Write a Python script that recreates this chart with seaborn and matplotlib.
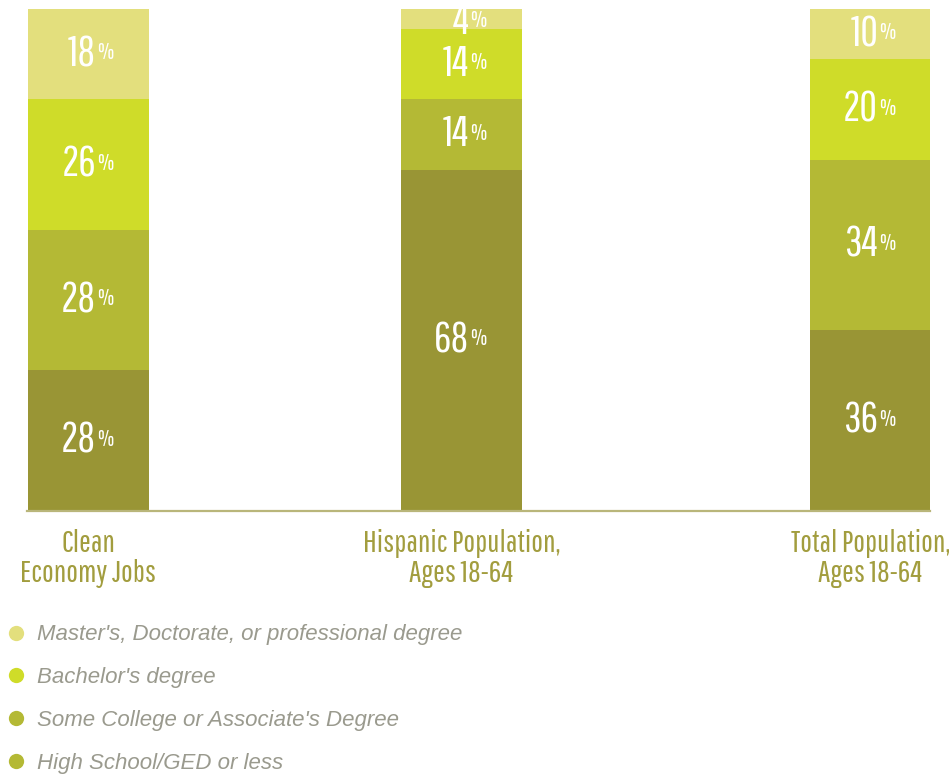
import matplotlib
matplotlib.use("Agg")
import matplotlib.pyplot as plt
from matplotlib.lines import Line2D
from matplotlib import font_manager
import seaborn as sns
import pandas as pd
import numpy as np

# ---- data -------------------------------------------------------------
groups = ["Clean\nEconomy Jobs", "Hispanic Population,\nAges 18-64", "Total Population,\nAges 18-64"]
levels = [
    "High School/GED or less",
    "Some College or Associate's Degree",
    "Bachelor's degree",
    "Master's, Doctorate, or professional degree",
]
high_school = [28, 68, 36]
some_college = [28, 14, 34]
bachelors = [26, 14, 20]
masters = [18, 4, 10]

# ---- layout / style ----------------------------------------------------
bar_pos = [0.0, 0.954, 2.0]          # horizontal placement of the three columns
bar_width = 0.31
bar_colors = ["#999535", "#b4b935", "#cfdc29", "#e3df7d"]
legend_colors = ["#e3df7d", "#cfdc29", "#b4b935", "#b4b935"]
olive_text = "#a29d3e"
legend_text = "#9a9a8e"

sns.set_theme(style="white")
available = {f.name for f in font_manager.fontManager.ttflist}


def pick(options, default="DejaVu Sans"):
    for name in options:
        if name in available:
            return name
    return default


narrow = pick(["Pathway Gothic One", "Roboto Condensed", "Barlow Condensed", "Oswald",
               "Archivo Narrow", "PT Sans Narrow", "Liberation Sans Narrow", "Teko"])
oblique = pick(["Liberation Sans", "Arimo", "Roboto"])
plt.rcParams["font.family"] = [narrow, "DejaVu Sans"]

df = pd.DataFrame({
    "group": groups,
    "pos": bar_pos,
    levels[0]: high_school,
    levels[1]: some_college,
    levels[2]: bachelors,
    levels[3]: masters,
})
# cumulative heights, bottom segment first
cum = df[levels].cumsum(axis=1)
cum["pos"] = df["pos"]

fig = plt.figure(figsize=(9.49, 7.74), dpi=100)
W, H = 949, 774
ax = fig.add_axes([27 / W, (H - 511) / H, (930 - 27) / W, 502 / H])

# stacked bars: draw tallest cumulative first, then overlay lower stacks
min_gap = np.min(np.diff(sorted(bar_pos)))
for i in reversed(range(len(levels))):
    sns.barplot(data=cum, x="pos", y=levels[i], native_scale=True, orient="x",
                color=bar_colors[i], saturation=1, width=bar_width / min_gap,
                ax=ax, linewidth=0, errorbar=None)

ax.set_xlim(-0.157, 2.152)
ax.set_ylim(0, 100)
ax.set_xlabel("")
ax.set_ylabel("")
ax.set_yticks([])
for s in ["top", "right", "left"]:
    ax.spines[s].set_visible(False)
ax.spines["bottom"].set_color("#b9b67a")
ax.spines["bottom"].set_linewidth(1.6)

ax.tick_params(axis="x", length=0, pad=13)
ax.set_xticks(bar_pos)
ax.set_xticklabels(groups, fontsize=22.5, color=olive_text, linespacing=1.05,
                   va="top", family=[narrow, "DejaVu Sans"])

# segment value labels: big number followed by a small percent sign
values = df[levels].to_numpy()
bottoms = np.hstack([np.zeros((len(groups), 1)), cum[levels].to_numpy()[:, :-1]])
for gi, x in enumerate(bar_pos):
    for li in range(len(levels)):
        v = values[gi, li]
        yc = min(bottoms[gi, li] + v / 2, 97.5)   # keep thin top segments' labels inside the frame
        ax.annotate(f"{v}", xy=(x, yc), xytext=(5.5, 0), textcoords="offset points",
                    ha="right", va="center", color="white", fontsize=31,
                    family=[narrow, "DejaVu Sans"])
        ax.annotate("%", xy=(x, yc), xytext=(6.0, 1), textcoords="offset points",
                    ha="left", va="center", color="white", fontsize=17,
                    family=[narrow, "DejaVu Sans"])

# legend with round markers, top entry first
handles = [Line2D([0], [0], marker="o", linestyle="", markersize=11,
                  markerfacecolor=c, markeredgewidth=0) for c in legend_colors]
labels = list(reversed(levels))
leg = fig.legend(handles, labels, loc="upper left", bbox_to_anchor=(0.0, 1 - 620 / H),
                 frameon=False, handlelength=1.0, handletextpad=0.45,
                 labelspacing=0.98, borderaxespad=0, borderpad=0.2,
                 prop={"family": [oblique, "DejaVu Sans"], "style": "italic", "size": 16})
for t in leg.get_texts():
    t.set_color(legend_text)

fig.savefig("out.png", dpi=100)
